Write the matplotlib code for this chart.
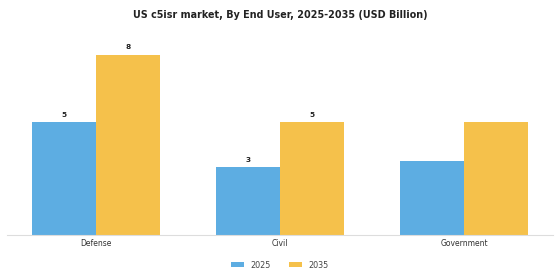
import matplotlib
matplotlib.use("Agg")
import matplotlib.pyplot as plt
import numpy as np

categories = ["Defense", "Civil", "Government"]
values_2025 = [5.0, 3.0, 3.3]
values_2035 = [8.0, 5.0, 5.0]
labels_2025 = ["5", "3", ""]
labels_2035 = ["8", "5", ""]

COL_2025 = "#5DADE2"
COL_2035 = "#F5C14B"

fig = plt.figure(figsize=(5.6, 2.8), dpi=100)
ax = fig.add_axes([0.0125, 0.161, 0.975, 0.73])

x = np.arange(len(categories))
w = 0.348
b1 = ax.bar(x - w / 2, values_2025, w, color=COL_2025, label="2025")
b2 = ax.bar(x + w / 2, values_2035, w, color=COL_2035, label="2035")

for bars, labs in ((b1, labels_2025), (b2, labels_2035)):
    for rect, lab in zip(bars, labs):
        if lab:
            ax.text(rect.get_x() + rect.get_width() / 2, rect.get_height() + 0.2, lab,
                    ha="center", va="bottom", fontsize=5.3, fontweight="bold", color="#222222")

ax.set_xlim(-0.484, 2.484)
ax.set_ylim(0, 9.07)
ax.set_xticks(x)
ax.set_xticklabels(categories, fontsize=5.5, color="#333333")
ax.tick_params(axis="x", length=0, pad=3)
ax.set_yticks([])
for s in ("top", "right", "left"):
    ax.spines[s].set_visible(False)
ax.spines["bottom"].set_color("#dddddd")
ax.spines["bottom"].set_linewidth(0.8)

fig.suptitle("US c5isr market, By End User, 2025-2035 (USD Billion)",
             y=0.965, fontsize=6.9, fontweight="bold", color="#222222")

fig.legend(handles=[b1, b2], loc="center", bbox_to_anchor=(0.5, 0.053), ncol=2,
           frameon=False, fontsize=5.8, handlelength=1.6, handleheight=0.6,
           handletextpad=0.8, columnspacing=2.2, labelcolor="#444444")

fig.savefig("out.png", dpi=100)
